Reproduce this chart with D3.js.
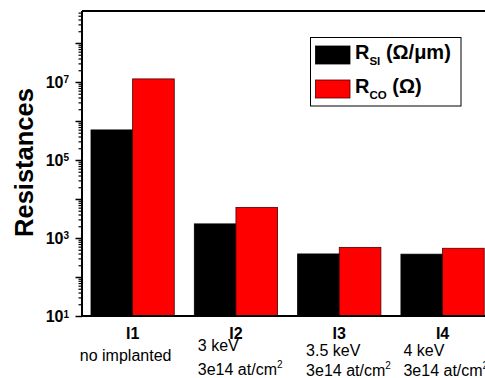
<!DOCTYPE html>
<html>
<head>
<meta charset="utf-8">
<script src="https://cdn.jsdelivr.net/npm/d3@7"></script>
<style>
  html, body { margin: 0; padding: 0; background: #fff; }
  svg { display: block; }
  text { font-family: Arial, "Liberation Sans", sans-serif; }
</style>
</head>
<body>
<svg id="chart" width="485" height="378"></svg>
<script>
// ---- data ----
const categories = ["I1", "I2", "I3", "I4"];
const subLabels = [
  ["no implanted"],
  ["3 keV", "3e14 at/cm"],
  ["3.5 keV", "3e14 at/cm"],
  ["4 keV", "3e14 at/cm"]
];
const seriesNames = ["RSI", "RCO"];
const rSI = [5.9e5, 2.3e3, 390, 385];
const rCO = [1.2e7, 6.1e3, 575, 545];
const majorTicks = [1e1, 1e2, 1e3, 1e4, 1e5, 1e6, 1e7, 1e8];
const labeledExponents = [1, 3, 5, 7];

// ---- layout ----
const W = 485, H = 378;
const plotLeft = 82, plotTop = 11, plotBottom = 316;
const svg = d3.select("#chart");

const y = d3.scaleLog().domain([10, Math.pow(10, 8.82)]).range([plotBottom, plotTop]);
const x = d3.scaleBand().domain(categories).range([plotLeft, 493.2])
  .paddingInner(0.194).paddingOuter(0.087);
const x1 = d3.scaleBand().domain(seriesNames).range([0, x.bandwidth()]);
const colors = { RSI: "#000000", RCO: "#ff0000" };
const strokes = { RSI: "#000000", RCO: "#4a0000" };

// bars
const rows = categories.map((c, i) => ({ cat: c, RSI: rSI[i], RCO: rCO[i] }));
const g = svg.append("g");
rows.forEach(r => {
  seriesNames.forEach(s => {
    g.append("rect")
      .attr("x", x(r.cat) + x1(s))
      .attr("y", y(r[s]))
      .attr("width", x1.bandwidth())
      .attr("height", y(10) - y(r[s]))
      .attr("fill", colors[s])
      .attr("stroke", strokes[s])
      .attr("stroke-width", 0.8);
  });
});

// frame: top border and bottom axis line
svg.append("line").attr("x1", plotLeft).attr("x2", W).attr("y1", plotTop).attr("y2", plotTop)
  .attr("stroke", "#000").attr("stroke-width", 2);
svg.append("line").attr("x1", plotLeft).attr("x2", W).attr("y1", plotBottom).attr("y2", plotBottom)
  .attr("stroke", "#000").attr("stroke-width", 2);

// minor ticks
const minorTicks = [];
for (let e = 1; e <= 8; e++) {
  for (let k = 2; k <= 9; k++) {
    const v = k * Math.pow(10, e);
    if (v <= y.domain()[1]) minorTicks.push(v);
  }
}
const minorAxis = d3.axisLeft(y).tickValues(minorTicks).tickSize(3.5).tickFormat("");
const gMinor = svg.append("g").attr("transform", `translate(${plotLeft},0)`).call(minorAxis);
gMinor.select(".domain").remove();
gMinor.selectAll("line").attr("stroke", "#000").attr("stroke-width", 1.2);

// major ticks
const majorAxis = d3.axisLeft(y).tickValues(majorTicks).tickSize(6.5).tickFormat("");
const gMajor = svg.append("g").attr("transform", `translate(${plotLeft},0)`).call(majorAxis);
gMajor.select(".domain").attr("stroke", "#000").attr("stroke-width", 2)
  .attr("d", `M0,${plotBottom}V${plotTop}`);
gMajor.selectAll("line").attr("stroke", "#000").attr("stroke-width", 1.5);

// labels 10^n
labeledExponents.forEach(e => {
  const t = svg.append("text")
    .attr("x", 69).attr("y", y(Math.pow(10, e)) + 6)
    .attr("text-anchor", "end")
    .attr("font-weight", "bold").attr("font-size", 16);
  t.append("tspan").text("10");
  t.append("tspan").attr("font-size", 10).attr("dy", -4.5).text(String(e));
});

// y title
svg.append("text")
  .attr("transform", `translate(33,162.5) rotate(-90)`)
  .attr("text-anchor", "middle")
  .attr("font-weight", "bold").attr("font-size", 25.5)
  .text("Resistances");

// x category labels
categories.forEach(c => {
  svg.append("text")
    .attr("x", x(c) + x.bandwidth() / 2)
    .attr("y", 338.5)
    .attr("text-anchor", "middle")
    .attr("font-weight", "bold").attr("font-size", 16)
    .text(c);
});

// sub labels (layout offsets per column)
const subDx = [null, 3.5, 8.5, 2.5];
const subY = [[361], [350.5, 374.5], [356, 376], [356, 376]];
subLabels.forEach((lines, i) => {
  const c = categories[i];
  lines.forEach((ln, j) => {
    const t = svg.append("text")
      .attr("font-size", 16)
      .attr("y", subY[i][j]);
    if (subDx[i] === null) {
      t.attr("x", x(c) + x.bandwidth() / 2 - 7).attr("text-anchor", "middle").text(ln);
    } else {
      t.attr("x", x(c) + subDx[i]).attr("text-anchor", "start");
      t.append("tspan").text(ln);
      if (j === 1) t.append("tspan").attr("font-size", 10).attr("dy", -7).text("2");
    }
  });
});

// legend
const lg = svg.append("g");
lg.append("rect").attr("x", 310.5).attr("y", 37.5).attr("width", 150.5).attr("height", 68.5)
  .attr("fill", "#fff").attr("stroke", "#000").attr("stroke-width", 1);
const legendItems = [
  { key: "RSI", main: "R", sub: "SI", rest: " (Ω/μm)" },
  { key: "RCO", main: "R", sub: "CO", rest: " (Ω)" }
];
legendItems.forEach((it, i) => {
  const yy = 46 + i * 34;
  lg.append("rect").attr("x", 315.5).attr("y", yy).attr("width", 34.5).attr("height", 18)
    .attr("fill", colors[it.key]).attr("stroke", strokes[it.key]).attr("stroke-width", 0.8);
  const t = lg.append("text").attr("x", 355).attr("y", yy + 13)
    .attr("font-weight", "bold").attr("font-size", 20);
  t.append("tspan").text(it.main);
  t.append("tspan").attr("font-size", 11.5).attr("dy", 5.5).text(it.sub);
  t.append("tspan").attr("dy", -5.5).text(it.rest);
});
</script>
</body>
</html>
